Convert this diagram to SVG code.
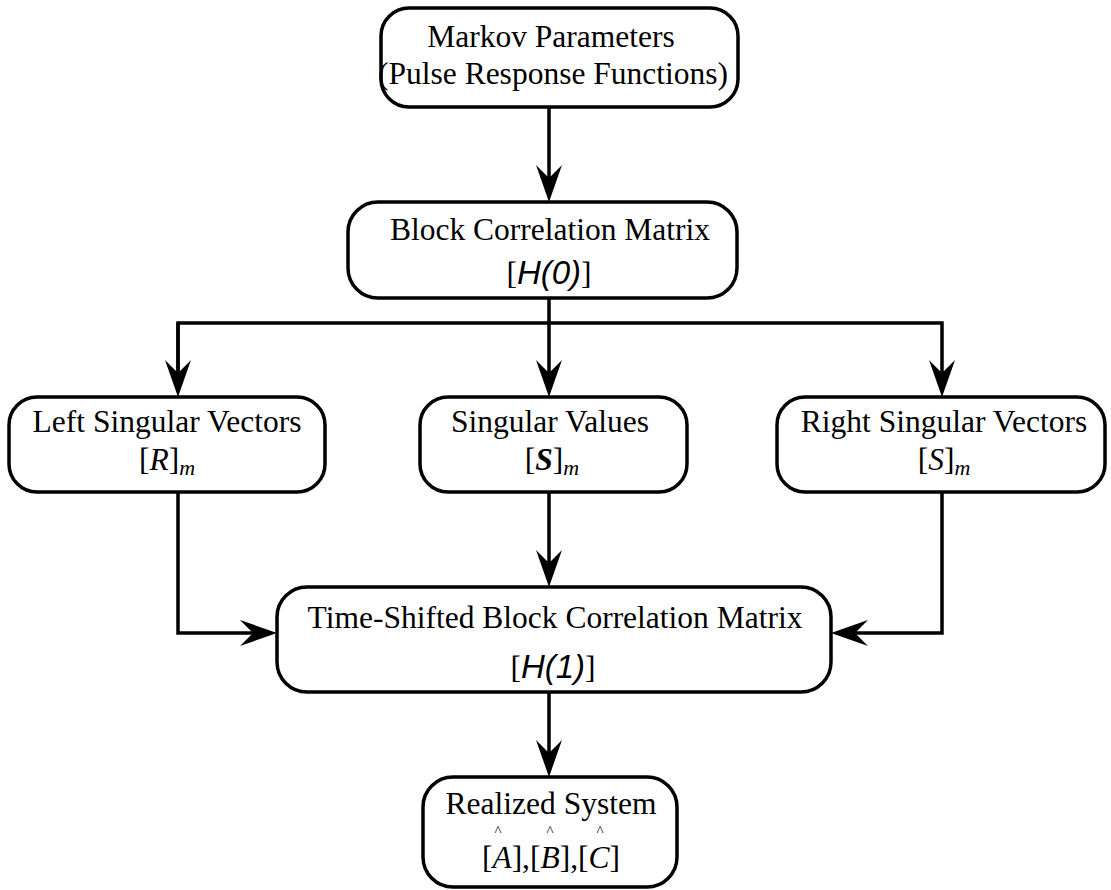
<svg xmlns="http://www.w3.org/2000/svg" width="1111" height="890" viewBox="0 0 1111 890">
  <style>
    .box { fill: #ffffff; stroke: #000000; stroke-width: 3.5; }
    .wire { fill: none; stroke: #000000; stroke-width: 3.5; stroke-linejoin: miter; }
    .t { font-family: "Liberation Serif", "Times New Roman", serif; font-size: 31.5px; fill: #000000; text-anchor: middle; }
    .it { font-style: italic; }
    .bi { font-style: italic; font-weight: bold; }
    .sans { font-family: "Liberation Sans", Arial, sans-serif; font-style: italic; font-size: 33px; }
    .sub { font-style: italic; font-size: 22px; }
    .hat { font-family: "Liberation Serif", "Times New Roman", serif; font-size: 15px; fill: #000000; text-anchor: middle; }
  </style>
  <defs>
    <marker id="arrow" markerUnits="userSpaceOnUse" viewBox="0 0 37 28" refX="13" refY="14" markerWidth="37" markerHeight="28" orient="auto">
      <path d="M0,1 L37,14 L0,27 L13,14 z" fill="#000000"/>
    </marker>
  </defs>

  <!-- connectors -->
  <g id="connectors">
    <path class="wire" d="M549,107 L549,178" marker-end="url(#arrow)"/>
    <path class="wire" d="M549,298 L549,373" marker-end="url(#arrow)"/>
    <path class="wire" d="M178,373 L178,323 L942,323 L942,373" marker-end="url(#arrow)"/>
    <path class="wire" d="M178,323 L178,373" marker-end="url(#arrow)"/>
    <path class="wire" d="M549,492 L549,563" marker-end="url(#arrow)"/>
    <path class="wire" d="M178,492 L178,633 L253,633" marker-end="url(#arrow)"/>
    <path class="wire" d="M942,492 L942,633 L855,633" marker-end="url(#arrow)"/>
    <path class="wire" d="M549,692 L549,753" marker-end="url(#arrow)"/>
  </g>

  <!-- Markov parameters -->
  <g id="markov">
    <rect class="box" x="381" y="8" width="357" height="99" rx="28"/>
    <text class="t" x="551" y="47">Markov Parameters</text>
    <text class="t" x="553" y="84">(Pulse Response Functions)</text>
  </g>

  <!-- Block correlation matrix H(0) -->
  <g id="h0">
    <rect class="box" x="348" y="202" width="389" height="96" rx="30"/>
    <text class="t" x="550" y="240">Block Correlation Matrix</text>
    <text class="t" x="549" y="284">[<tspan class="sans">H(0)</tspan>]</text>
  </g>

  <!-- Left singular vectors -->
  <g id="left">
    <rect class="box" x="9" y="397" width="316" height="95" rx="28"/>
    <text class="t" x="167" y="432">Left Singular Vectors</text>
    <text class="t" x="167" y="470">[<tspan class="it">R</tspan>]<tspan class="sub" dy="5">m</tspan></text>
  </g>

  <!-- Singular values -->
  <g id="values">
    <rect class="box" x="420" y="397" width="267" height="95" rx="28"/>
    <text class="t" x="550" y="432">Singular Values</text>
    <text class="t" x="552" y="470">[<tspan class="bi">S</tspan>]<tspan class="sub" dy="5">m</tspan></text>
  </g>

  <!-- Right singular vectors -->
  <g id="right">
    <rect class="box" x="777" y="397" width="328" height="95" rx="28"/>
    <text class="t" x="944" y="432">Right Singular Vectors</text>
    <text class="t" x="944" y="470">[<tspan class="it">S</tspan>]<tspan class="sub" dy="5">m</tspan></text>
  </g>

  <!-- Time-shifted block correlation matrix H(1) -->
  <g id="h1">
    <rect class="box" x="277" y="587" width="554" height="105" rx="30"/>
    <text class="t" x="555" y="628">Time-Shifted Block Correlation Matrix</text>
    <text class="t" x="553" y="678">[<tspan class="sans">H(1)</tspan>]</text>
  </g>

  <!-- Realized system: estimated matrices carry a hat accent -->
  <g id="realized">
    <rect class="box" x="423" y="777" width="254" height="110" rx="30"/>
    <text class="t" x="551" y="814">Realized System</text>
    <text class="hat" x="498" y="836">^</text>
    <text class="hat" x="550" y="836">^</text>
    <text class="hat" x="600" y="836">^</text>
    <text class="t" x="551" y="868">[<tspan class="it">A</tspan>],[<tspan class="it">B</tspan>],[<tspan class="it">C</tspan>]</text>
  </g>
</svg>
